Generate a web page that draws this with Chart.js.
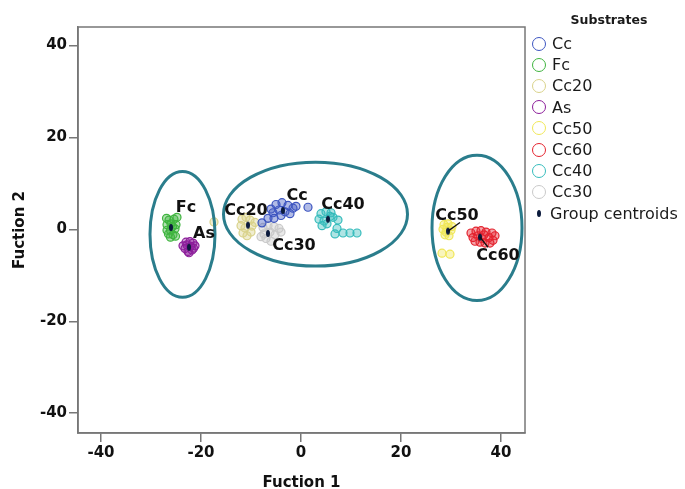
<!DOCTYPE html>
<html>
<head>
<meta charset="utf-8">
<script src="https://cdn.jsdelivr.net/npm/chart.js@4.4.0/dist/chart.umd.min.js"></script>
<style>
    body { margin: 0; background: #fff; }
    #wrap { position: relative; width: 685px; height: 489px; }
    #legend { position: absolute; left: 532px; top: 12px; font-family: 'DejaVu Sans', sans-serif; color: #1a1a1a; }
    #legend .title { font-weight: bold; font-size: 12.5px; text-align: center; width: 154px; margin-bottom: 6px; }
    #legend .row { display: flex; align-items: center; height: 21.2px; font-size: 16px; }
    #legend .mark { width: 14px; height: 14px; border-radius: 50%; border: 1.3px solid; margin-right: 6px; box-sizing: border-box; }
    #legend .dot { width: 4px; height: 7px; border-radius: 50%; background: #0b1a3c; margin: 0 9px 0 5px; }
</style>
</head>
<body>
<div id="wrap">
    <canvas id="chart" width="685" height="489"></canvas>
    <div id="legend"></div>
</div>
<script>
// --- Dados ---
const seriesNames = ['Cc', 'Fc', 'Cc20', 'As', 'Cc50', 'Cc60', 'Cc40', 'Cc30'];
const seriesColors = ['#3d55c0', '#3fb43f', '#d9d28a', '#8c1e9a', '#f0e758', '#e4242f', '#36bcbc', '#c9c9c9'];

const ccPoints = [[-5.0, 5.4], [-3.8, 5.8], [-2.6, 5.2], [-1.6, 4.6], [-4.4, 4.2], [-3.2, 3.8], [-5.6, 3.6], [-2.2, 3.4],
    [-4.0, 3.0], [-1.0, 5.0], [1.4, 4.8], [-6.6, 2.4], [-7.8, 1.4], [-5.4, 2.4], [-6.0, 4.4]];
const fcPoints = [[-26.4, 2.0], [-25.4, 2.2], [-26.8, 1.0], [-26.0, 1.2], [-25.0, 1.0], [-26.8, -0.2], [-26.1, -0.2], [-25.2, 0.1],
    [-26.5, -1.0], [-25.6, -1.2], [-25.1, -1.5], [-26.1, -1.7], [-25.7, 0.6], [-24.8, 2.6], [-26.9, 2.4]];
const cc20Points = [[-11.8, 2.2], [-11.0, 2.6], [-10.2, 2.0], [-12.0, 0.8], [-11.2, 0.3], [-9.8, 0.7], [-11.6, -0.8],
    [-10.8, -1.4], [-10.0, -0.6], [-9.2, 1.5], [-17.4, 1.6]];
const asPoints = [[-23.6, -3.6], [-23.0, -2.8], [-22.2, -2.7], [-21.6, -3.0], [-21.2, -3.6], [-23.2, -4.2], [-22.6, -4.8],
    [-21.8, -4.5], [-22.1, -3.7], [-22.8, -3.4], [-21.5, -4.1], [-22.4, -5.1]];
const cc50Points = [[28.6, 1.0], [29.4, 1.2], [30.2, 0.6], [28.4, 0.0], [29.0, -0.6], [30.0, -0.2], [28.8, -1.2], [29.6, -1.4],
    [29.2, 0.4], [28.2, -5.2], [29.8, -5.4]];
const cc60Points = [[34.0, -0.8], [35.0, -0.4], [36.0, -0.3], [37.0, -0.6], [38.2, -0.8], [38.8, -1.4], [34.4, -1.8], [35.4, -1.4],
    [36.6, -1.2], [37.6, -1.8], [38.4, -2.4], [34.8, -2.6], [35.8, -2.8], [36.8, -3.0], [37.8, -3.0], [36.2, -2.0]];
const cc40Points = [[4.0, 3.4], [5.0, 3.8], [6.0, 3.6], [3.6, 2.2], [4.6, 1.8], [6.4, 2.6], [5.2, 1.2], [4.2, 0.8], [7.4, 2.0],
    [7.2, 0.2], [6.8, -1.0], [8.4, -0.8], [9.8, -0.8], [11.2, -0.8], [5.8, 2.8]];
const cc30Points = [[-7.6, 0.4], [-6.6, 0.8], [-5.4, 0.6], [-4.4, 0.2], [-7.4, -1.0], [-6.2, -0.6], [-5.2, -1.2], [-7.0, -2.0],
    [-6.0, -2.6], [-4.0, -0.6], [-8.0, -1.6]];
const seriesPoints = [ccPoints, fcPoints, cc20Points, asPoints, cc50Points, cc60Points, cc40Points, cc30Points];

// centróides na mesma ordem das séries
const centroidX = [-3.6, -26.0, -10.6, -22.4, 29.4, 35.8, 5.4, -6.6];
const centroidY = [4.1, 0.4, 0.9, -3.9, -0.4, -1.7, 2.2, -0.9];

const xTicks = [-40, -20, 0, 20, 40];
const yTicks = [-40, -20, 0, 20, 40];

// rótulos dos grupos: texto, x, y (unidades dos eixos), linha guia opcional até o centróide
const groupLabels = [
    ['Fc', -23.0, 4.6], ['As', -19.4, -0.9], ['Cc20', -11.0, 4.1], ['Cc', -0.8, 7.2],
    ['Cc40', 8.4, 5.4], ['Cc30', -1.4, -3.5], ['Cc50', 31.2, 3.0, 31.8, 1.5, 29.4, -0.4],
    ['Cc60', 39.4, -5.7, 37.4, -3.9, 35.8, -1.7]
];

// elipses de agrupamento: centro x, centro y, raio x, raio y
const clusterEllipses = [[-23.7, -1.1, 6.5, 13.7], [2.9, 3.3, 18.4, 11.3], [35.2, 0.3, 9.0, 15.8]];

// --- Marcador do centróide ---
const centroidMark = document.createElement('canvas');
centroidMark.width = 6; centroidMark.height = 9;
(function () {
    const c = centroidMark.getContext('2d');
    c.fillStyle = '#0b1a3c';
    c.beginPath();
    c.ellipse(3, 4.5, 2, 3.5, 0, 0, Math.PI * 2);
    c.fill();
})();

function hexAlpha(hex, a) {
    const n = parseInt(hex.slice(1), 16);
    return `rgba(${(n >> 16) & 255}, ${(n >> 8) & 255}, ${n & 255}, ${a})`;
}

const datasets = seriesNames.map((name, i) => ({
    label: name,
    data: seriesPoints[i].map(p => ({ x: p[0], y: p[1] })),
    borderColor: seriesColors[i],
    backgroundColor: hexAlpha(seriesColors[i], 0.4),
    pointRadius: 4,
    pointBorderWidth: 1.2,
    showLine: false,
    order: 1
}));
datasets.push({
    label: 'Group centroids',
    data: centroidX.map((x, i) => ({ x: x, y: centroidY[i] })),
    pointStyle: centroidMark,
    showLine: false,
    order: 0
});

// --- Plugins ---
const overlayPlugin = {
    id: 'overlay',
    afterDatasetsDraw(chart) {
        const { ctx, chartArea, scales } = chart;
        const xs = scales.x, ys = scales.y;
        ctx.save();
        // moldura
        ctx.strokeStyle = '#777';
        ctx.lineWidth = 1.5;
        ctx.strokeRect(chartArea.left, chartArea.top, chartArea.right - chartArea.left, chartArea.bottom - chartArea.top);

        // elipses
        ctx.strokeStyle = '#2a7d8c';
        ctx.lineWidth = 3;
        clusterEllipses.forEach(e => {
            const cx = xs.getPixelForValue(e[0]);
            const cy = ys.getPixelForValue(e[1]);
            const rx = Math.abs(xs.getPixelForValue(e[0] + e[2]) - cx);
            const ry = Math.abs(ys.getPixelForValue(e[1] + e[3]) - cy);
            ctx.beginPath();
            ctx.ellipse(cx, cy, rx, ry, 0, 0, Math.PI * 2);
            ctx.stroke();
        });

        // rótulos
        ctx.font = 'bold 16px "DejaVu Sans"';
        ctx.textAlign = 'center';
        ctx.textBaseline = 'middle';
        groupLabels.forEach(l => {
            if (l.length > 3) {
                ctx.strokeStyle = '#111';
                ctx.lineWidth = 1.3;
                ctx.beginPath();
                ctx.moveTo(xs.getPixelForValue(l[3]), ys.getPixelForValue(l[4]));
                ctx.lineTo(xs.getPixelForValue(l[5]), ys.getPixelForValue(l[6]));
                ctx.stroke();
            }
            ctx.fillStyle = '#111';
            ctx.fillText(l[0], xs.getPixelForValue(l[1]), ys.getPixelForValue(l[2]));
        });
        ctx.restore();
    }
};

const tickFont = { family: 'DejaVu Sans', size: 15, weight: 'bold' };
const titleFont = { family: 'DejaVu Sans', size: 15, weight: 'bold' };

new Chart(document.getElementById('chart'), {
    type: 'scatter',
    data: { datasets: datasets },
    options: {
        responsive: false,
        animation: false,
        layout: { padding: { top: 27, right: 160, left: 0, bottom: 0 } },
        plugins: {
            legend: { display: false },
            tooltip: { enabled: false }
        },
        scales: {
            x: {
                min: -44.6, max: 44.8,
                afterBuildTicks: s => { s.ticks = xTicks.map(v => ({ value: v })); },
                afterFit: s => { s.height = 56; },
                grid: { drawOnChartArea: false, tickLength: 9, color: '#777', lineWidth: 1.5 },
                border: { color: '#777', width: 1.5 },
                ticks: { font: tickFont, color: '#111', padding: 2 },
                title: { display: true, text: 'Fuction 1', font: titleFont, color: '#111', padding: { top: 8, bottom: -3 } }
            },
            y: {
                min: -44.3, max: 44.0,
                afterBuildTicks: s => { s.ticks = yTicks.map(v => ({ value: v })); },
                afterFit: s => { s.width = 78; },
                grid: { drawOnChartArea: false, tickLength: 9, color: '#777', lineWidth: 1.5 },
                border: { color: '#777', width: 1.5 },
                ticks: { font: tickFont, color: '#111', padding: 2 },
                title: { display: true, text: 'Fuction 2', font: titleFont, color: '#111', padding: { top: 11, bottom: 0 } }
            }
        }
    },
    plugins: [overlayPlugin]
});

// --- Legenda HTML ---
const legend = document.getElementById('legend');
legend.innerHTML = '<div class="title">Substrates</div>' +
    seriesNames.map((name, i) =>
        `<div class="row"><span class="mark" style="border-color:${seriesColors[i]}"></span>${name}</div>`).join('') +
    '<div class="row"><span class="dot"></span>Group centroids</div>';
</script>
</body>
</html>
